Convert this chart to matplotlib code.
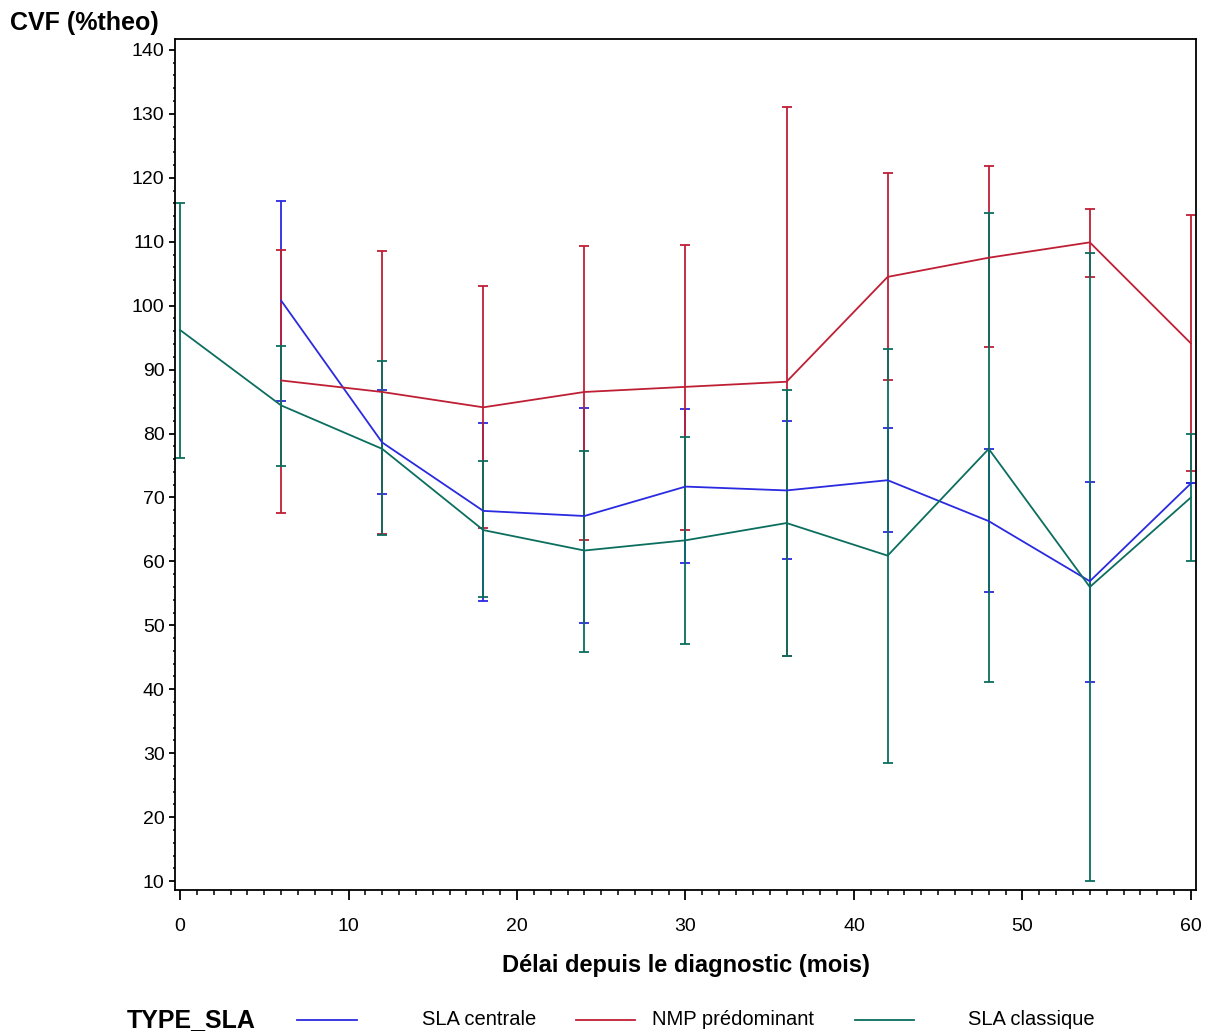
import matplotlib
matplotlib.use("Agg")
import matplotlib.pyplot as plt
from matplotlib.lines import Line2D
from matplotlib.ticker import MultipleLocator

plt.rcParams['font.family'] = ['Liberation Sans', 'DejaVu Sans']

# Données : moyenne, borne haute, borne basse
centrale_x = [6, 12, 18, 24, 30, 36, 42, 48, 54, 60]
centrale_moy = [100.8, 78.6, 67.9, 67.1, 71.7, 71.1, 72.7, 66.3, 56.9, 72.2]
centrale_haut = [116.4, 86.8, 81.7, 84.0, 83.8, 81.9, 80.8, 77.6, 72.4, 72.2]
centrale_bas = [85.1, 70.5, 53.8, 50.4, 59.8, 60.3, 64.6, 55.2, 41.1, 72.2]

nmp_x = [6, 12, 18, 24, 30, 36, 42, 48, 54, 60]
nmp_moy = [88.3, 86.5, 84.1, 86.5, 87.3, 88.1, 104.5, 107.5, 109.9, 94.1]
nmp_haut = [108.7, 108.5, 103.1, 109.3, 109.5, 131.0, 120.7, 121.8, 115.1, 114.2]
nmp_bas = [67.6, 64.3, 65.2, 63.3, 64.9, 45.2, 88.4, 93.5, 104.5, 74.1]

classique_x = [0, 6, 12, 18, 24, 30, 36, 42, 48, 54, 60]
classique_moy = [96.2, 84.4, 77.6, 64.9, 61.7, 63.3, 66.0, 60.9, 77.6, 56.0, 70.0]
classique_haut = [116.1, 93.7, 91.3, 75.7, 77.3, 79.5, 86.8, 93.2, 114.5, 108.2, 80.0]
classique_bas = [76.2, 74.9, 64.2, 54.4, 45.8, 47.1, 45.2, 28.4, 41.1, 10.0, 60.1]

noms = ['SLA centrale', 'NMP prédominant', 'SLA classique']
couleurs = ['#2a2ae0', '#bf1f35', '#0b6e5f']

series = [
    (centrale_x, centrale_moy, centrale_haut, centrale_bas),
    (nmp_x, nmp_moy, nmp_haut, nmp_bas),
    (classique_x, classique_moy, classique_haut, classique_bas),
]

fig = plt.figure(figsize=(12.05, 10.33), dpi=100)
ax = fig.add_axes([0.1452, 0.1384, 0.8473, 0.8238])

for (x, moy, haut, bas), c in zip(series, couleurs):
    err = [[m - b for m, b in zip(moy, bas)], [h - m for h, m in zip(haut, moy)]]
    ax.errorbar(x, moy, yerr=err, color=c, lw=1.3, elinewidth=1.3,
                capsize=3.6, capthick=1.3)

ax.set_xlim(-0.3, 60.3)
ax.set_ylim(8.6, 141.7)
ax.xaxis.set_major_locator(MultipleLocator(10))
ax.xaxis.set_minor_locator(MultipleLocator(1))
ax.yaxis.set_major_locator(MultipleLocator(10))
ax.yaxis.set_minor_locator(MultipleLocator(2))
ax.tick_params(axis='x', which='major', direction='out', length=7, width=1.3,
               labelsize=14, pad=13)
ax.tick_params(axis='x', which='minor', direction='out', length=3.5, width=1.1)
ax.tick_params(axis='y', which='major', direction='out', length=4.5, width=1.3,
               labelsize=14, pad=3)
ax.tick_params(axis='y', which='minor', direction='out', length=1.5, width=1.1)
for sp in ax.spines.values():
    sp.set_linewidth(1.3)

ax.set_xlabel('Délai depuis le diagnostic (mois)', fontsize=17, fontweight='bold',
              labelpad=14)
fig.text(0.008, 0.978, 'CVF (%theo)', fontsize=18, fontweight='bold',
         ha='left', va='center')

# Légende en bas, façon SAS
ly = 0.0126
fig.text(0.1054, ly, 'TYPE_SLA', fontsize=18, fontweight='bold', ha='left', va='center')
lignes_x = [(0.2465, 0.2963), (0.478, 0.527), (0.7095, 0.7585)]
textes_x = [0.398, 0.608, 0.856]
for nom, c, (x0, x1), tx in zip(noms, couleurs, lignes_x, textes_x):
    fig.add_artist(Line2D([x0, x1], [ly, ly], color=c, lw=1.3, transform=fig.transFigure))
    fig.text(tx, ly, nom, fontsize=14.5, ha='center', va='center')

fig.savefig('out.png', dpi=100)
